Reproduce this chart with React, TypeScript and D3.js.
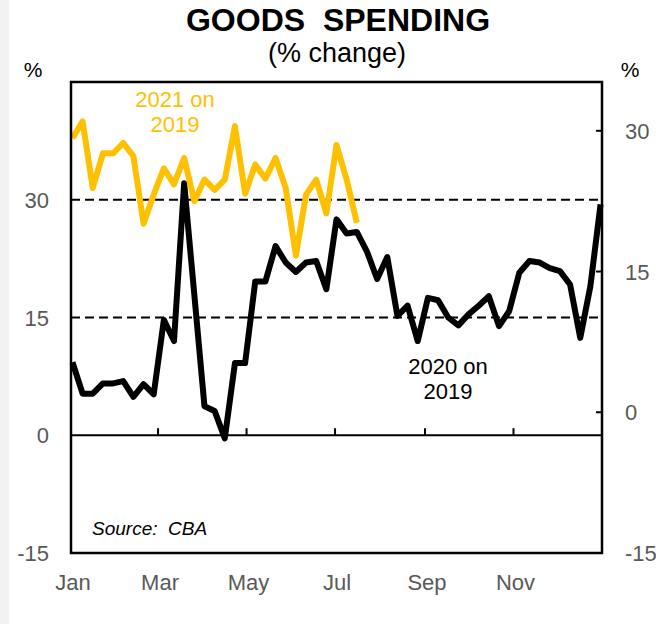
import React from "react";
import * as d3 from "d3";

const weekDates = [
  "2020-01-02", "2020-01-09", "2020-01-16", "2020-01-23", "2020-01-30",
  "2020-02-06", "2020-02-13", "2020-02-20", "2020-02-27", "2020-03-05",
  "2020-03-12", "2020-03-19", "2020-03-26", "2020-04-02", "2020-04-09",
  "2020-04-16", "2020-04-23", "2020-04-30", "2020-05-07", "2020-05-14",
  "2020-05-21", "2020-05-28", "2020-06-04", "2020-06-11", "2020-06-18",
  "2020-06-25", "2020-07-02", "2020-07-09", "2020-07-16", "2020-07-23",
  "2020-07-30", "2020-08-06", "2020-08-13", "2020-08-20", "2020-08-27",
  "2020-09-03", "2020-09-10", "2020-09-17", "2020-09-24", "2020-10-01",
  "2020-10-08", "2020-10-15", "2020-10-22", "2020-10-29", "2020-11-05",
  "2020-11-12", "2020-11-19", "2020-11-26", "2020-12-03", "2020-12-10",
  "2020-12-17", "2020-12-24", "2020-12-31",
];

// 2020 on 2019 (left axis)
const series2020 = [
  9.3, 5.3, 5.3, 6.6, 6.6, 6.9, 4.9, 6.5, 5.2, 14.7,
  12.0, 32.1, 17.9, 3.7, 3.1, -0.4, 9.2, 9.2, 19.6, 19.6,
  24.1, 22.0, 20.8, 22.0, 22.2, 18.6, 27.5, 25.7, 25.9, 23.4,
  19.9, 22.7, 15.2, 16.5, 12.0, 17.5, 17.2, 15.0, 14.0, 15.4,
  16.5, 17.7, 13.9, 15.8, 20.7, 22.2, 22.0, 21.3, 20.9, 19.2,
  12.4, 19.0, 29.4,
];

// 2021 on 2019 (right axis)
const series2021 = [
  29.2, 31.0, 23.9, 27.6, 27.6, 28.7, 27.3, 20.1, 23.2, 26.0,
  24.3, 27.1, 22.5, 24.8, 23.7, 24.8, 30.5, 23.3, 26.4, 24.9,
  27.1, 23.9, 16.7, 23.2, 24.8, 21.2, 28.5, 24.8, 20.2,
];

const leftTicks = [-15, 0, 15, 30];
const rightTicks = [-15, 0, 15, 30];
const dashedLevels = [15, 30];
const monthTicks = ["2020-01-01", "2020-03-01", "2020-05-01", "2020-07-01", "2020-09-01", "2020-11-01"];
const monthLabels = ["Jan", "Mar", "May", "Jul", "Sep", "Nov"];

const W = 656;
const H = 624;
const L = 71, R = 602, T = 82, B = 553;
const FONT = "'Liberation Sans', Arial, sans-serif";
const GREY = "#595959";
const YELLOW = "#FFC000";

export default function App() {
  const parse = d3.timeParse("%Y-%m-%d");
  const x = d3.scaleTime().domain([new Date(2020, 0, 1), new Date(2021, 0, 1)]).range([L, R]);
  const yL = d3.scaleLinear().domain([-15, 45]).range([B, T]);
  const yR = d3.scaleLinear().domain([-15, 35.2]).range([B, T]);

  const d2020 = series2020.map((v, i) => ({ d: parse(weekDates[i])!, v }));
  const d2021 = series2021.map((v, i) => ({ d: parse(weekDates[i])!, v }));

  const lineL = d3.line<{ d: Date; v: number }>().x((p) => x(p.d)).y((p) => yL(p.v));
  const lineR = d3.line<{ d: Date; v: number }>().x((p) => x(p.d)).y((p) => yR(p.v));

  return (
    <svg width={W} height={H} style={{ position: "absolute", left: 0, top: 0, background: "#fff" }} fontFamily={FONT}>
      <rect x={0} y={0} width={W} height={H} fill="#fff" />
      <rect x={0} y={0} width={9} height={H} fill="#f2f2f2" />

      <text x={338} y={31} textAnchor="middle" fontSize={32} fontWeight="bold" fill="#000" style={{ whiteSpace: "pre" }}>{"GOODS  SPENDING"}</text>
      <text x={337} y={62} textAnchor="middle" fontSize={27} fill="#000">(% change)</text>
      <text x={33} y={77} textAnchor="middle" fontSize={21} fill="#000">%</text>
      <text x={630} y={77} textAnchor="middle" fontSize={21} fill="#000">%</text>

      {dashedLevels.map((v) => (
        <line key={v} x1={L} x2={R} y1={yL(v)} y2={yL(v)} stroke="#000" strokeWidth={2} strokeDasharray="9 5" />
      ))}
      <line x1={L} x2={R} y1={yL(0)} y2={yL(0)} stroke="#000" strokeWidth={2} />

      {monthTicks.slice(1).map((m) => {
        const xx = x(parse(m)!);
        return <line key={m} x1={xx} x2={xx} y1={yL(0)} y2={yL(0) - 7} stroke="#000" strokeWidth={2} />;
      })}
      {rightTicks.slice(1).map((v) => (
        <line key={v} x1={R} x2={R - 6} y1={yR(v)} y2={yR(v)} stroke="#000" strokeWidth={2} />
      ))}

      <path d={lineL(d2020)!} fill="none" stroke="#000" strokeWidth={6} strokeLinejoin="round" />
      <path d={lineR(d2021)!} fill="none" stroke={YELLOW} strokeWidth={6} strokeLinejoin="round" />

      <rect x={L} y={T} width={R - L} height={B - T} fill="none" stroke="#000" strokeWidth={2.5} />

      {leftTicks.map((v) => (
        <text key={v} x={49} y={yL(v) + 8} textAnchor="end" fontSize={22} fill={GREY}>{v}</text>
      ))}
      {rightTicks.map((v) => (
        <text key={v} x={625} y={yR(v) + 8} textAnchor="start" fontSize={22} fill={GREY}>{v}</text>
      ))}
      {monthTicks.map((m, i) => (
        <text key={m} x={x(parse(m)!) + 2} y={590} textAnchor="middle" fontSize={22} fill={GREY}>{monthLabels[i]}</text>
      ))}

      <text x={175} y={107} textAnchor="middle" fontSize={22} fill={YELLOW}>2021 on</text>
      <text x={175} y={132} textAnchor="middle" fontSize={22} fill={YELLOW}>2019</text>
      <text x={448} y={374} textAnchor="middle" fontSize={22} fill="#000">2020 on</text>
      <text x={448} y={399} textAnchor="middle" fontSize={22} fill="#000">2019</text>

      <text x={92} y={535} fontSize={19} fontStyle="italic" fill="#000" style={{ whiteSpace: "pre" }}>{"Source:  CBA"}</text>
    </svg>
  );
}
